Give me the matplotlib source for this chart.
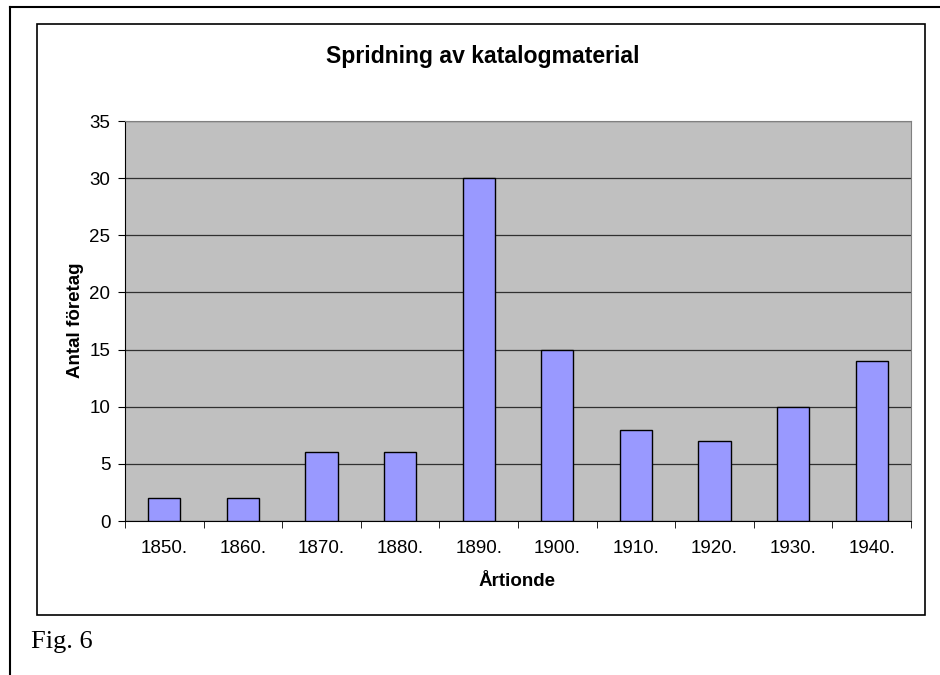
import matplotlib
matplotlib.use("Agg")
import matplotlib.pyplot as plt
from matplotlib.patches import Rectangle
from matplotlib.lines import Line2D

decades = ['1850.', '1860.', '1870.', '1880.', '1890.',
           '1900.', '1910.', '1920.', '1930.', '1940.']
companies = [2, 2, 6, 6, 30, 15, 8, 7, 10, 14]
y_ticks = [0, 5, 10, 15, 20, 25, 30, 35]

W, H = 940, 675
fig = plt.figure(figsize=(W / 100, H / 100), dpi=100)
fig.patch.set_facecolor('white')

def fx(px):
    return px / W

def fy(py):
    return 1 - py / H

# page border (left and top) and chart frame
fig.add_artist(Line2D([fx(9.5), fx(9.5)], [fy(7), fy(675)], color='black', lw=1.5))
fig.add_artist(Line2D([fx(9.5), fx(940)], [fy(7), fy(7)], color='black', lw=1.5))
fig.add_artist(Rectangle((fx(37), fy(615)), fx(925) - fx(37), fy(24) - fy(615),
                         fill=False, edgecolor='black', lw=1.2))

ax = fig.add_axes([fx(125), fy(521), fx(911) - fx(125), fy(121) - fy(521)])
ax.set_facecolor('#C0C0C0')
x = list(range(len(decades)))
ax.bar(x, companies, width=0.41, color='#9999FF', edgecolor='black', lw=1.0, zorder=3)

ax.set_xlim(-0.5, len(decades) - 0.5)
ax.set_ylim(0, 35)
ax.set_yticks(y_ticks)
ax.yaxis.grid(True, color='#303030', lw=0.9, zorder=1)
ax.set_axisbelow(True)

ax.set_xticks(x)
ax.set_xticklabels(decades)
ax.set_xticks([i - 0.5 for i in range(len(decades) + 1)], minor=True)
ax.tick_params(axis='x', which='major', length=0, pad=14, labelsize=13.5)
ax.tick_params(axis='x', which='minor', length=5, direction='out', color='black')
ax.tick_params(axis='y', length=5, direction='out', labelsize=13.5, pad=5.5)

for name in ['top', 'right']:
    ax.spines[name].set_color('#808080')
ax.spines['left'].set_color('black')
ax.spines['bottom'].set_color('black')

for lab in ax.get_xticklabels() + ax.get_yticklabels():
    lab.set_fontfamily('Liberation Sans')

fig.text(fx(483), fy(57), 'Spridning av katalogmaterial', ha='center', va='center',
         fontsize=16.6, fontweight='bold', family='Liberation Sans')
fig.text(fx(517), fy(582), 'Årtionde', ha='center', va='center',
         fontsize=13.5, fontweight='bold', family='Liberation Sans')
fig.text(fx(75), fy(320), 'Antal företag', ha='center', va='center', rotation=90,
         fontsize=13.5, fontweight='bold', family='Liberation Sans')
fig.text(fx(31), fy(642), 'Fig. 6', ha='left', va='center',
         fontsize=19, family='Liberation Serif')

fig.savefig('out.png', dpi=100)
